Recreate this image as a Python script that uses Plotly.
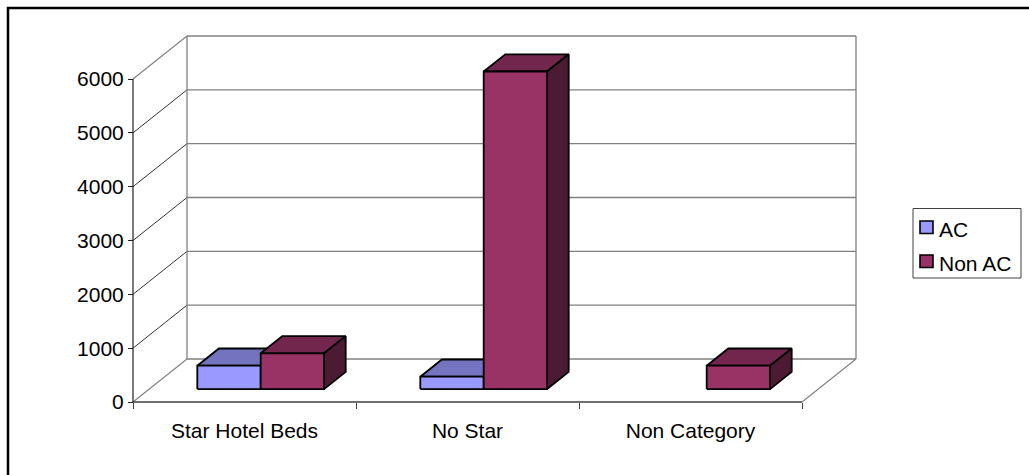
import plotly.graph_objects as go

# ---- data -------------------------------------------------------------
categories = ["Star Hotel Beds", "No Star", "Non Category"]
series_names = ["AC", "Non AC"]
ac_beds = [435, 230, 0]
non_ac_beds = [665, 5900, 435]
y_ticks = [0, 1000, 2000, 3000, 4000, 5000, 6000]

front_colors = ["#9999FF", "#993366"]
top_colors = ["#7373BF", "#73264D"]
side_colors = ["#4D4D80", "#4D1A33"]

# ---- frame / oblique projection ----------------------------------------
W, H = 1029, 475
X0_PX, Y0_PX = 133, 402          # front-left corner of the floor
CAT_PX = 223                     # pixel width of one category
UNIT_PX = 323 / 6000             # pixels per value unit
DEPTH_PX = (54, 43)              # oblique shift of the full floor depth

DX = DEPTH_PX[0] / CAT_PX        # depth shift in category units
DY = DEPTH_PX[1] / UNIT_PX       # depth shift in value units

GAP = 0.2157                     # empty space on each side of a cluster
BAR_W = (1 - 2 * GAP) / len(series_names)
D_FRONT, D_BACK = 0.3, 0.7       # depth slab occupied by the columns

x_range = [-X0_PX / CAT_PX, (W - X0_PX) / CAT_PX]
y_range = [-(H - Y0_PX) / UNIT_PX, Y0_PX / UNIT_PX]

FONT = "Liberation Sans, Arial, sans-serif"


def proj(u, v, d):
    return u + d * DX, v + d * DY


def poly(points, fill, width=1.8, color="black"):
    xs = [p[0] for p in points] + [points[0][0]]
    ys = [p[1] for p in points] + [points[0][1]]
    return go.Scatter(x=xs, y=ys, mode="lines", fill="toself", fillcolor=fill,
                      line=dict(color=color, width=width), hoverinfo="skip",
                      showlegend=False)


def seg(points, color, width):
    return go.Scatter(x=[p[0] for p in points], y=[p[1] for p in points],
                      mode="lines", line=dict(color=color, width=width),
                      hoverinfo="skip", showlegend=False)


fig = go.Figure()
n = len(categories)
top_v = y_ticks[-1]

# walls: back-wall gridlines, side-wall diagonals and edges
for v in y_ticks:
    fig.add_trace(seg([proj(0, v, 1), proj(n, v, 1)], "#808080", 1.3))
for v in y_ticks:
    edge = v in (y_ticks[0], y_ticks[-1])
    fig.add_trace(seg([proj(0, v, 0), proj(0, v, 1)],
                      "#808080" if edge else "#000000", 1.1 if edge else 0.8))
fig.add_trace(seg([proj(0, 0, 1), proj(0, top_v, 1)], "#808080", 1.3))
fig.add_trace(seg([proj(n, 0, 1), proj(n, top_v, 1)], "#808080", 1.3))
fig.add_trace(seg([proj(n, 0, 0), proj(n, 0, 1)], "#808080", 1.1))
# axis lines
fig.add_trace(seg([proj(0, 0, 0), proj(n, 0, 0)], "#404040", 1.4))
fig.add_trace(seg([proj(0, 0, 0), proj(0, top_v, 0)], "#202020", 1.2))

# columns, left to right so each front face hides its neighbour's side
values = [ac_beds, non_ac_beds]
for i in range(n):
    for s in range(len(series_names)):
        val = values[s][i]
        if val <= 0:
            continue
        u0 = i + GAP + s * BAR_W
        u1 = u0 + BAR_W
        fig.add_trace(poly([proj(u0, val, D_FRONT), proj(u1, val, D_FRONT),
                            proj(u1, val, D_BACK), proj(u0, val, D_BACK)],
                           top_colors[s]))
        fig.add_trace(poly([proj(u1, 0, D_FRONT), proj(u1, 0, D_BACK),
                            proj(u1, val, D_BACK), proj(u1, val, D_FRONT)],
                           side_colors[s]))
        fig.add_trace(poly([proj(u0, 0, D_FRONT), proj(u1, 0, D_FRONT),
                            proj(u1, val, D_FRONT), proj(u0, val, D_FRONT)],
                           front_colors[s]))


def px_x(p):
    return p / W


def px_y(p):
    return 1 - p / H


shapes = [
    # chart border
    dict(type="rect", xref="paper", yref="paper",
         x0=px_x(8), x1=px_x(W + 20), y0=px_y(H + 20), y1=px_y(8),
         line=dict(color="black", width=2.5)),
    # legend frame
    dict(type="rect", xref="paper", yref="paper",
         x0=px_x(913), x1=px_x(1021), y0=px_y(278), y1=px_y(208.5),
         line=dict(color="#404040", width=1)),
]
annotations = []
for s, name in enumerate(series_names):
    top = 221 + s * 34
    shapes.append(dict(type="rect", xref="paper", yref="paper",
                       x0=px_x(920), x1=px_x(933), y0=px_y(top + 12.5), y1=px_y(top),
                       fillcolor=front_colors[s],
                       line=dict(color="black", width=1.6)))
    annotations.append(dict(xref="paper", yref="paper", x=px_x(937), y=px_y(top + 8),
                            xanchor="left", yanchor="middle", text=name,
                            showarrow=False,
                            font=dict(family=FONT, size=21, color="black")))

fig.update_layout(
    width=W, height=H,
    margin=dict(l=0, r=0, t=0, b=0),
    paper_bgcolor="white", plot_bgcolor="white",
    showlegend=False,
    font=dict(family=FONT, size=21, color="black"),
    shapes=shapes, annotations=annotations,
    xaxis=dict(range=x_range, anchor="free", position=(H - Y0_PX) / H,
               showgrid=False, zeroline=False, showline=False,
               tickmode="array", tickvals=[i + 0.5 for i in range(n)],
               ticktext=categories, ticks="", ticklabelstandoff=14,
               minor=dict(tickmode="array", tickvals=list(range(n + 1)),
                          ticks="outside", ticklen=6, tickwidth=1,
                          tickcolor="#404040", showgrid=False),
               fixedrange=True),
    yaxis=dict(range=y_range, anchor="free", position=X0_PX / W,
               showgrid=False, zeroline=False, showline=False,
               tickmode="array", tickvals=y_ticks,
               ticktext=[str(v) for v in y_ticks],
               ticks="outside", ticklen=5, tickwidth=1, tickcolor="#202020",
               fixedrange=True),
)

fig.write_html("out.html")
